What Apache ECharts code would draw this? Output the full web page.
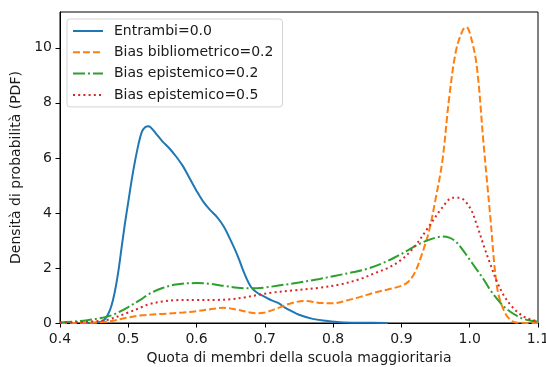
<!DOCTYPE html>
<html>
<head>
<meta charset="utf-8">
<script src="https://cdn.jsdelivr.net/npm/echarts@6/dist/echarts.min.js"></script>
<style>html,body{margin:0;padding:0;background:#fff;}#c{width:546px;height:367px;}</style>
</head>
<body>
<div id="c"></div>
<script>
const seriesNames = ['Entrambi=0.0', 'Bias bibliometrico=0.2', 'Bias epistemico=0.2', 'Bias epistemico=0.5'];
const xTickLabels = ['0.4','0.5','0.6','0.7','0.8','0.9','1.0','1.1'];
const yTickLabels = ['0','2','4','6','8','10'];

const entrambiX = [0.43,0.45,0.46,0.465,0.47,0.475,0.48,0.485,0.49,0.495,0.50,0.505,0.51,0.515,0.52,0.525,0.53,0.535,0.54,0.55,0.56,0.57,0.58,0.59,0.60,0.61,0.62,0.63,0.64,0.65,0.66,0.67,0.68,0.69,0.70,0.71,0.72,0.73,0.74,0.75,0.77,0.79,0.81,0.84,0.88];
const entrambiY = [0,0.01,0.05,0.12,0.3,0.6,1.1,1.8,2.7,3.6,4.4,5.2,5.9,6.5,6.95,7.12,7.15,7.05,6.9,6.6,6.35,6.05,5.7,5.25,4.8,4.4,4.1,3.85,3.5,3.0,2.45,1.8,1.3,1.08,0.95,0.82,0.72,0.55,0.42,0.3,0.15,0.08,0.03,0.01,0];

const biblioX = [0.40,0.44,0.47,0.50,0.52,0.55,0.58,0.60,0.62,0.64,0.66,0.68,0.69,0.70,0.72,0.74,0.76,0.78,0.80,0.82,0.84,0.86,0.88,0.90,0.91,0.92,0.93,0.94,0.95,0.96,0.97,0.98,0.99,0.995,1.0,1.01,1.02,1.03,1.04,1.05,1.06,1.07,1.1];
const biblioY = [0.0,0.01,0.05,0.2,0.28,0.33,0.38,0.43,0.5,0.55,0.48,0.37,0.35,0.38,0.55,0.73,0.8,0.73,0.72,0.82,0.95,1.1,1.22,1.35,1.5,1.85,2.5,3.3,4.5,5.9,8.2,9.9,10.65,10.75,10.55,9.4,6.6,3.9,1.3,0.45,0.1,0.01,0];

const epi2X = [0.40,0.42,0.44,0.46,0.47,0.48,0.50,0.52,0.53,0.55,0.57,0.60,0.62,0.64,0.66,0.68,0.70,0.72,0.75,0.78,0.80,0.83,0.85,0.87,0.89,0.91,0.93,0.95,0.96,0.97,0.98,0.99,1.0,1.01,1.02,1.03,1.04,1.05,1.06,1.07,1.08,1.09,1.1];
const epi2Y = [0.02,0.05,0.1,0.18,0.24,0.32,0.58,0.88,1.05,1.27,1.4,1.45,1.42,1.35,1.28,1.26,1.29,1.36,1.47,1.6,1.7,1.85,1.97,2.15,2.38,2.65,2.92,3.1,3.14,3.1,2.95,2.65,2.3,1.95,1.6,1.2,0.88,0.6,0.4,0.25,0.14,0.08,0.05];

const epi5X = [0.40,0.43,0.45,0.47,0.50,0.52,0.53,0.55,0.57,0.60,0.63,0.65,0.67,0.69,0.71,0.74,0.78,0.81,0.84,0.86,0.88,0.90,0.92,0.94,0.96,0.975,0.985,1.0,1.01,1.02,1.03,1.04,1.05,1.06,1.07,1.08,1.09,1.1];
const epi5Y = [0.01,0.03,0.06,0.12,0.38,0.58,0.68,0.78,0.83,0.84,0.84,0.86,0.93,1.02,1.1,1.18,1.28,1.4,1.6,1.8,2.0,2.3,2.8,3.5,4.2,4.55,4.55,4.2,3.6,2.85,2.15,1.5,1.0,0.65,0.4,0.22,0.12,0.07];

const colors = ['#1f77b4','#ff7f0e','#2ca02c','#d62728'];
const lw = 2;
const dashes = ['solid', [7,3], [12,3,2,3], [2,3.2]];
const xs = [entrambiX, biblioX, epi2X, epi5X];
const ys = [entrambiY, biblioY, epi2Y, epi5Y];

const font = 'DejaVu Sans';
const textColor = '#1a1a1a';
const fs = 14;

const chart = echarts.init(document.getElementById('c'), null, {renderer:'canvas'});
chart.setOption({
  animation: false,
  backgroundColor: '#fff',
  grid: {left: 60, right: 8, top: 12, bottom: 44, show: true, borderColor: '#000', borderWidth: 1, backgroundColor: 'transparent', outerBoundsMode: 'none', containLabel: false},
  legend: {
    orient: 'vertical', left: 67, top: 19,
    padding: [5,9,5,5], itemWidth: 30, itemHeight: 14, itemGap: 7.3,
    backgroundColor: 'rgba(255,255,255,0.8)', borderColor: '#d4d4d4', borderWidth: 1, borderRadius: 3,
    itemStyle: {opacity: 0},
    textStyle: {fontFamily: font, fontSize: fs, color: textColor, padding: [0,0,0,6]},
    data: seriesNames
  },
  xAxis: {
    type: 'value', min: 0.4, max: 1.1, interval: 0.1,
    name: 'Quota di membri della scuola maggioritaria', nameLocation: 'middle', nameGap: 27,
    nameTextStyle: {fontFamily: font, fontSize: fs, color: textColor},
    axisLine: {show: true, onZero: false, lineStyle: {color: '#000', width: 1}},
    axisTick: {show: true, inside: false, length: 4.5, lineStyle: {color: '#000', width: 1}},
    axisLabel: {fontFamily: font, fontSize: fs, color: textColor, margin: 9,
      formatter: v => { const i = Math.round((v - 0.4) / 0.1); return xTickLabels[i] !== undefined ? xTickLabels[i] : ''; }},
    splitLine: {show: false}
  },
  yAxis: {
    type: 'value', min: 0, max: 11.3, interval: 2,
    name: 'Densità di probabilità (PDF)', nameLocation: 'middle', nameGap: 34,
    nameTextStyle: {fontFamily: font, fontSize: fs, color: textColor},
    axisLine: {show: true, lineStyle: {color: '#000', width: 1}},
    axisTick: {show: true, inside: false, length: 4.5, lineStyle: {color: '#000', width: 1}},
    axisLabel: {fontFamily: font, fontSize: fs, color: textColor, margin: 8, showMaxLabel: false,
      formatter: v => { const i = Math.round(v / 2); return (Math.abs(v - i*2) < 1e-6 && yTickLabels[i] !== undefined) ? yTickLabels[i] : ''; }},
    splitLine: {show: false}
  },
  series: seriesNames.map((n, k) => ({
    name: n, type: 'line', smooth: 0.35, symbol: 'none', showSymbol: false,
    clip: true,
    data: xs[k].map((x, i) => [x, ys[k][i]]),
    lineStyle: {color: colors[k], width: lw, type: dashes[k], cap: 'butt'},
    itemStyle: {color: colors[k]},
    z: 2 + k
  }))
});
</script>
</body>
</html>
